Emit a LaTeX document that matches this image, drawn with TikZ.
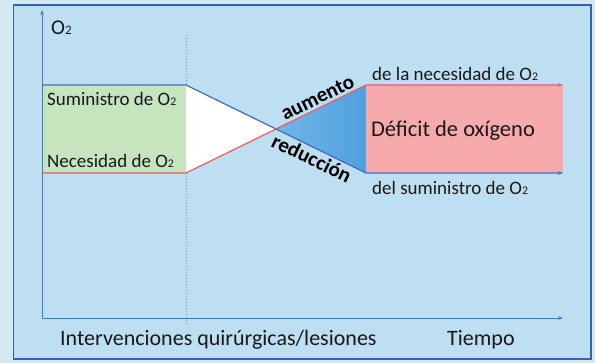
\documentclass[tikz,border=0pt]{standalone}
\usepackage{fontspec}
\setmainfont{Carlito}
\usetikzlibrary{arrows.meta}
\definecolor{outerbg}{RGB}{212,232,240}
\definecolor{innerbg}{RGB}{190,222,242}
\definecolor{framec}{RGB}{50,100,180}
\definecolor{supc}{RGB}{60,110,190}
\definecolor{needc}{RGB}{235,90,100}
\definecolor{greenf}{RGB}{198,228,190}
\definecolor{pinkf}{RGB}{246,170,172}
\definecolor{bluefl}{RGB}{112,182,232}
\definecolor{bluef}{RGB}{80,160,222}
\definecolor{axisc}{RGB}{70,120,195}
\newcommand{\Otwo}{O\scalebox{0.62}{2}}
\begin{document}
\begin{tikzpicture}[x=1pt,y=-1pt,
  lab/.style={font=\fontsize{19}{21}\selectfont, inner sep=0pt, text=black!90},
  biglab/.style={font=\fontsize{22}{24}\selectfont, inner sep=0pt, text=black!90},
  deflab/.style={font=\fontsize{22.5}{24}\selectfont, inner sep=0pt, text=black!90},
  boldlab/.style={font=\fontsize{21}{23}\selectfont\bfseries, inner sep=0pt, text=black},
  tip/.style={-{Stealth[length=5pt,width=3.5pt]}}]
\fill[outerbg] (0,0) rectangle (595,363);
\filldraw[fill=innerbg, draw=framec, line width=1.5pt] (13.5,5) rectangle (591,359);
\useasboundingbox (0,0) rectangle (595,363);
% coordinates
\coordinate (O) at (42,318);
\coordinate (Ytop) at (42,10);
\coordinate (Xend) at (563,318);
\coordinate (S0) at (42,85);
\coordinate (S1) at (186,85);
\coordinate (S2) at (366,173);
\coordinate (S3) at (563,173);
\coordinate (N0) at (42,173);
\coordinate (N1) at (186,173);
\coordinate (N2) at (366,85);
\coordinate (N3) at (563,85);
\coordinate (X) at (276,129);
\coordinate (D0) at (186,35);
\coordinate (D1) at (186,326);
% dotted vertical
\draw[black!35!innerbg, dash pattern=on 1.5pt off 1.5pt, line width=0.8pt] (D0) -- (D1);
% fills
\fill[greenf] (S0) rectangle (N1);
\fill[white] (S1) -- (N1) -- (X) -- cycle;
\shade[left color=bluefl, right color=bluef] (X) -- (N2) -- (S2) -- cycle;
\fill[pinkf] (N2) rectangle (S3);
% axes
\draw[axisc, line width=0.9pt, tip] (O) -- (Ytop);
\draw[axisc, line width=0.9pt, tip] (O) -- (Xend);
% lines
\draw[supc, line width=1.2pt, tip] (S0) -- (S1) -- (S2) -- (S3);
\draw[needc, line width=1.2pt, tip] (N0) -- (N1) -- (N2) -- (N3);
% rotated labels
\path (N1) -- (N2) node[pos=0.755, above=3pt, sloped, boldlab] (aum) {aumento};
\path (S1) -- (S2) node[pos=0.725, below=3pt, sloped, boldlab] (red) {reducción};
% texts
\node[lab, anchor=west, font=\fontsize{21}{23}\selectfont] (oy) at (51,28) {\Otwo};
\node[lab, anchor=west] (sup) at (47,99) {Suministro de \Otwo};
\node[lab, anchor=west] (nec) at (47,161) {Necesidad de \Otwo};
\node[lab, anchor=west] (nec2) at (372,74) {de la necesidad de \Otwo};
\node[lab, anchor=west] (sup2) at (372,188) {del suministro de \Otwo};
\node[deflab] (def) at (453,131) {Déficit de oxígeno};
\node[biglab, anchor=west] (int) at (60,340) {Intervenciones quirúrgicas/lesiones};
\node[biglab, anchor=west] (tie) at (447,340) {Tiempo};
\end{tikzpicture}
\end{document}
